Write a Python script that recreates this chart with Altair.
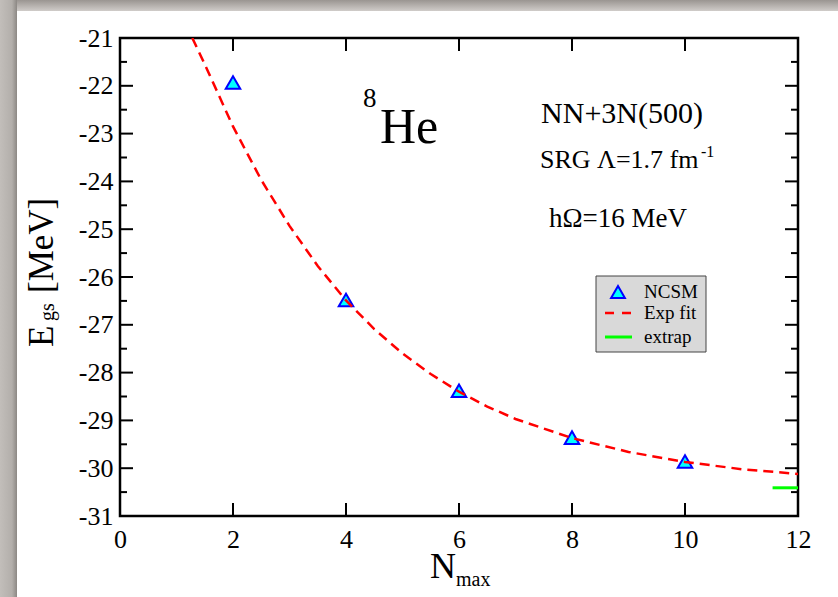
import altair as alt
import pandas as pd

# ---------------- data ----------------
nmax = [2, 4, 6, 8, 10]
egs = [-21.93, -26.48, -28.38, -29.36, -29.86]

fit_n = [1.28, 1.5, 1.75, 2.0, 2.5, 3.0, 3.5, 4.0, 4.5, 5.0, 5.5, 6.0, 6.5, 7.0, 8.0, 9.0, 10.0, 11.0, 12.0]
fit_e = [-21.0, -21.55, -22.2, -22.85, -23.97, -24.93, -25.77, -26.49, -27.09, -27.6, -28.03,
         -28.4, -28.71, -28.97, -29.37, -29.66, -29.87, -30.02, -30.12]

extrap_n = [11.55, 12.0]
extrap_e = [-30.41, -30.41]

x_ticks = [2, 4, 6, 8, 10]
x_labels = [0, 2, 4, 6, 8, 10, 12]
y_ticks = [-30, -29, -28, -27, -26, -25, -24, -23, -22]
y_labels = [-31, -30, -29, -28, -27, -26, -25, -24, -23, -22, -21]
y_minor = [-30.5, -29.5, -28.5, -27.5, -26.5, -25.5, -24.5, -23.5, -22.5, -21.5]

W, H = 678, 478
FONT = "Liberation Serif"

pts = pd.DataFrame({"N": nmax, "E": egs})
fit = pd.DataFrame({"N": fit_n, "E": fit_e})
ext = pd.DataFrame({"N": extrap_n, "E": extrap_e})
xt = pd.DataFrame({"N": x_ticks})
ytm = pd.DataFrame({"E": y_ticks})
ytn = pd.DataFrame({"E": y_minor})
one = pd.DataFrame({"k": [0]})

xs = alt.Scale(domain=[0, 12], nice=False, zero=False)
ys = alt.Scale(domain=[-31, -21], nice=False, zero=False)

x_axis = alt.Axis(values=x_labels, title=None, ticks=False, tickSize=0, domain=False, grid=False,
                  labelFont=FONT, labelFontSize=26, labelColor="black", labelPadding=10,
                  labelFlush=False, labelOverlap=False, labelExpr="datum.value + ''")
y_axis = alt.Axis(values=y_labels, title=None, ticks=False, tickSize=0, domain=False, grid=False,
                  labelFont=FONT, labelFontSize=26, labelColor="black", labelPadding=7,
                  labelFlush=False, labelOverlap=False, labelExpr="datum.value + ''")

X = alt.X("N:Q", scale=xs, axis=x_axis)
Y = alt.Y("E:Q", scale=ys, axis=y_axis)


def grad(c0, c1, vertical=False, mid=None):
    stops = [alt.GradientStop(color=c0, offset=0)]
    if mid is not None:
        stops.append(alt.GradientStop(color=mid[0], offset=mid[1]))
    stops.append(alt.GradientStop(color=c1, offset=1))
    if vertical:
        return alt.LinearGradient(gradient="linear", stops=stops, x1=0, x2=0, y1=0, y2=1)
    return alt.LinearGradient(gradient="linear", stops=stops, x1=0, x2=1, y1=0, y2=0)


# page frame (shadow strips at top and left)
top_strip = alt.Chart(one).mark_rect(color=grad("#9a9591", "#d0ccc9", vertical=True)).encode(
    x=alt.value(-120), x2=alt.value(718), y=alt.value(-38), y2=alt.value(-27))
left_strip = alt.Chart(one).mark_rect(color=grad("#c2beba", "#8c8884", mid=("#b3afab", 0.7))).encode(
    x=alt.value(-120), x2=alt.value(-103), y=alt.value(-38), y2=alt.value(559))

points = alt.Chart(pts).mark_point(shape="triangle-up", filled=True, fill="#00ffff",
                                   stroke="#0000ff", strokeWidth=2, size=210, opacity=1).encode(x=X, y=Y)
line = alt.Chart(fit).mark_line(color="#ff0000", strokeDash=[10, 6], strokeWidth=2.5, clip=True).encode(x=X, y=Y)
extl = alt.Chart(ext).mark_line(color="#00ff00", strokeWidth=3).encode(x=X, y=Y)

# inward ticks
tk = dict(color="black", strokeWidth=2)
xb = alt.Chart(xt).mark_rule(**tk).encode(x=X, y=alt.value(H), y2=alt.value(H - 13))
xtop = alt.Chart(xt).mark_rule(**tk).encode(x=X, y=alt.value(0), y2=alt.value(13))
yl = alt.Chart(ytm).mark_rule(**tk).encode(y=Y, x=alt.value(0), x2=alt.value(13))
yr = alt.Chart(ytm).mark_rule(**tk).encode(y=Y, x=alt.value(W), x2=alt.value(W - 13))
yln = alt.Chart(ytn).mark_rule(**tk).encode(y=Y, x=alt.value(0), x2=alt.value(7))
yrn = alt.Chart(ytn).mark_rule(**tk).encode(y=Y, x=alt.value(W), x2=alt.value(W - 7))


def txt(s, x, y, size, angle=0, align="left", baseline="alphabetic"):
    kw = dict(text=s, font=FONT, fontSize=size, color="black", align=align, baseline=baseline)
    if angle:
        kw["angle"] = angle
    return alt.Chart(one).mark_text(**kw).encode(x=alt.value(x), y=alt.value(y))


texts = [
    txt("8", 243, 69, 27),
    txt("He", 260, 105, 50),
    txt("NN+3N(500)", 502, 85, 30, align="center"),
    txt("SRG Λ=1.7 fm", 420, 130, 26),
    txt("-1", 581, 119, 16),
    txt("hΩ=16 MeV", 429, 189, 27),
    # x title
    txt("N", 310, 540, 36),
    txt("max", 336, 548, 20),
    # y title (rotated)
    txt("E", -67, 309, 35, angle=270),
    txt("gs", -66, 283, 20, angle=270),
    txt("[MeV]", -67, 255, 35, angle=270),
]

# legend box
lbox = alt.Chart(one).mark_rect(fill="#d9d9d9", stroke="#444444", strokeWidth=1).encode(
    x=alt.value(476), x2=alt.value(586), y=alt.value(238), y2=alt.value(314))
ltri = alt.Chart(one).mark_point(shape="triangle-up", filled=True, fill="#00ffff", stroke="#0000ff",
                                 strokeWidth=2, size=190, opacity=1).encode(x=alt.value(498), y=alt.value(254))
ldash = alt.Chart(one).mark_rule(color="#ff0000", strokeWidth=2.5, strokeDash=[9, 8]).encode(
    x=alt.value(485), x2=alt.value(511), y=alt.value(275))
lgreen = alt.Chart(one).mark_rule(color="#00ff00", strokeWidth=3).encode(
    x=alt.value(485), x2=alt.value(512), y=alt.value(299))
ltexts = [
    txt("NCSM", 524, 254, 19, baseline="middle"),
    txt("Exp fit", 524, 275, 19, baseline="middle"),
    txt("extrap", 524, 299, 19, baseline="middle"),
]

chart = alt.layer(
    points, top_strip, left_strip, xb, xtop, yl, yr, yln, yrn, line, extl,
    lbox, ltri, ldash, lgreen, *ltexts, *texts
).properties(
    width=W, height=H,
    padding={"left": 120, "top": 38, "right": 40, "bottom": 81},
    autosize=alt.AutoSizeParams(type="none"),
    background="white",
).configure_view(stroke="black", strokeWidth=2.5)

chart.save("out.html", embed_options={"renderer": "svg", "actions": False})
